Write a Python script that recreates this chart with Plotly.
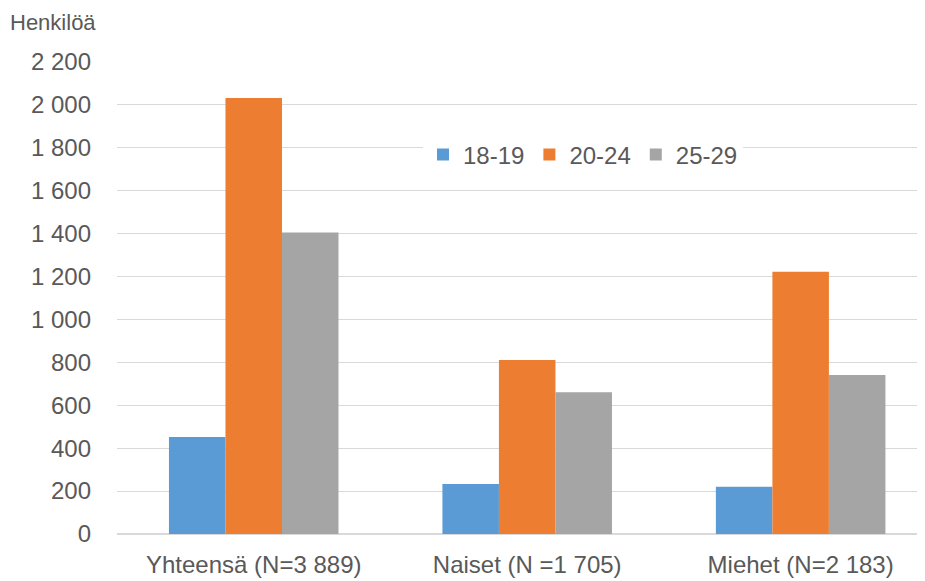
import plotly.graph_objects as go

categories = ["Yhteensä (N=3 889)", "Naiset (N =1 705)", "Miehet (N=2 183)"]
series_names = ["18-19", "20-24", "25-29"]
values_18_19 = [452, 233, 220]
values_20_24 = [2032, 811, 1222]
values_25_29 = [1405, 661, 741]
colors = ["#5B9BD5", "#ED7D31", "#A5A5A5"]

FONT = "Liberation Sans, Arial, sans-serif"
TXT = "#595959"

fig = go.Figure()
for name, vals, col in zip(series_names, [values_18_19, values_20_24, values_25_29], colors):
    fig.add_trace(go.Bar(name=name, x=categories, y=vals, marker=dict(color=col, line=dict(width=0))))

W, H = 925, 581
ml, mr, mt, mb = 109, 3, 54, 55
PW, PH = W - ml - mr, H - mt - mb
fig.update_layout(
    width=W, height=H,
    margin=dict(l=ml, r=mr, t=mt, b=mb, pad=0),
    paper_bgcolor="white", plot_bgcolor="white",
    barmode="group", bargap=0.38, bargroupgap=0,
    separators=", ",
    font=dict(family=FONT, size=24, color=TXT),
    showlegend=True,
    legend=dict(orientation="h", x=(415 - ml) / PW, y=(H - mb - 147) / PH,
                xanchor="left", yanchor="middle", bgcolor="white",
                font=dict(family=FONT, size=24, color=TXT), itemwidth=30, tracegroupgap=0),
    xaxis=dict(range=[-0.5, 2.473], showgrid=False, showline=False, ticks="",
               ticklabelstandoff=14,
               tickfont=dict(family=FONT, size=24, color=TXT)),
    yaxis=dict(range=[0, 2200], dtick=200, tickformat=",d", showgrid=True, gridcolor="#D9D9D9",
               gridwidth=1, zeroline=True, zerolinecolor="#D9D9D9", zerolinewidth=1.5,
               showline=False, ticks="", ticklabelstandoff=25,
               tickfont=dict(family=FONT, size=24, color=TXT)),
    annotations=[dict(text="Henkilöä", xref="paper", yref="paper",
                      x=-(ml - 0) / PW, y=1 + (mt - 14) / PH,
                      xanchor="left", yanchor="middle", showarrow=False,
                      font=dict(family=FONT, size=22, color=TXT))],
)
fig.write_html("out.html")
